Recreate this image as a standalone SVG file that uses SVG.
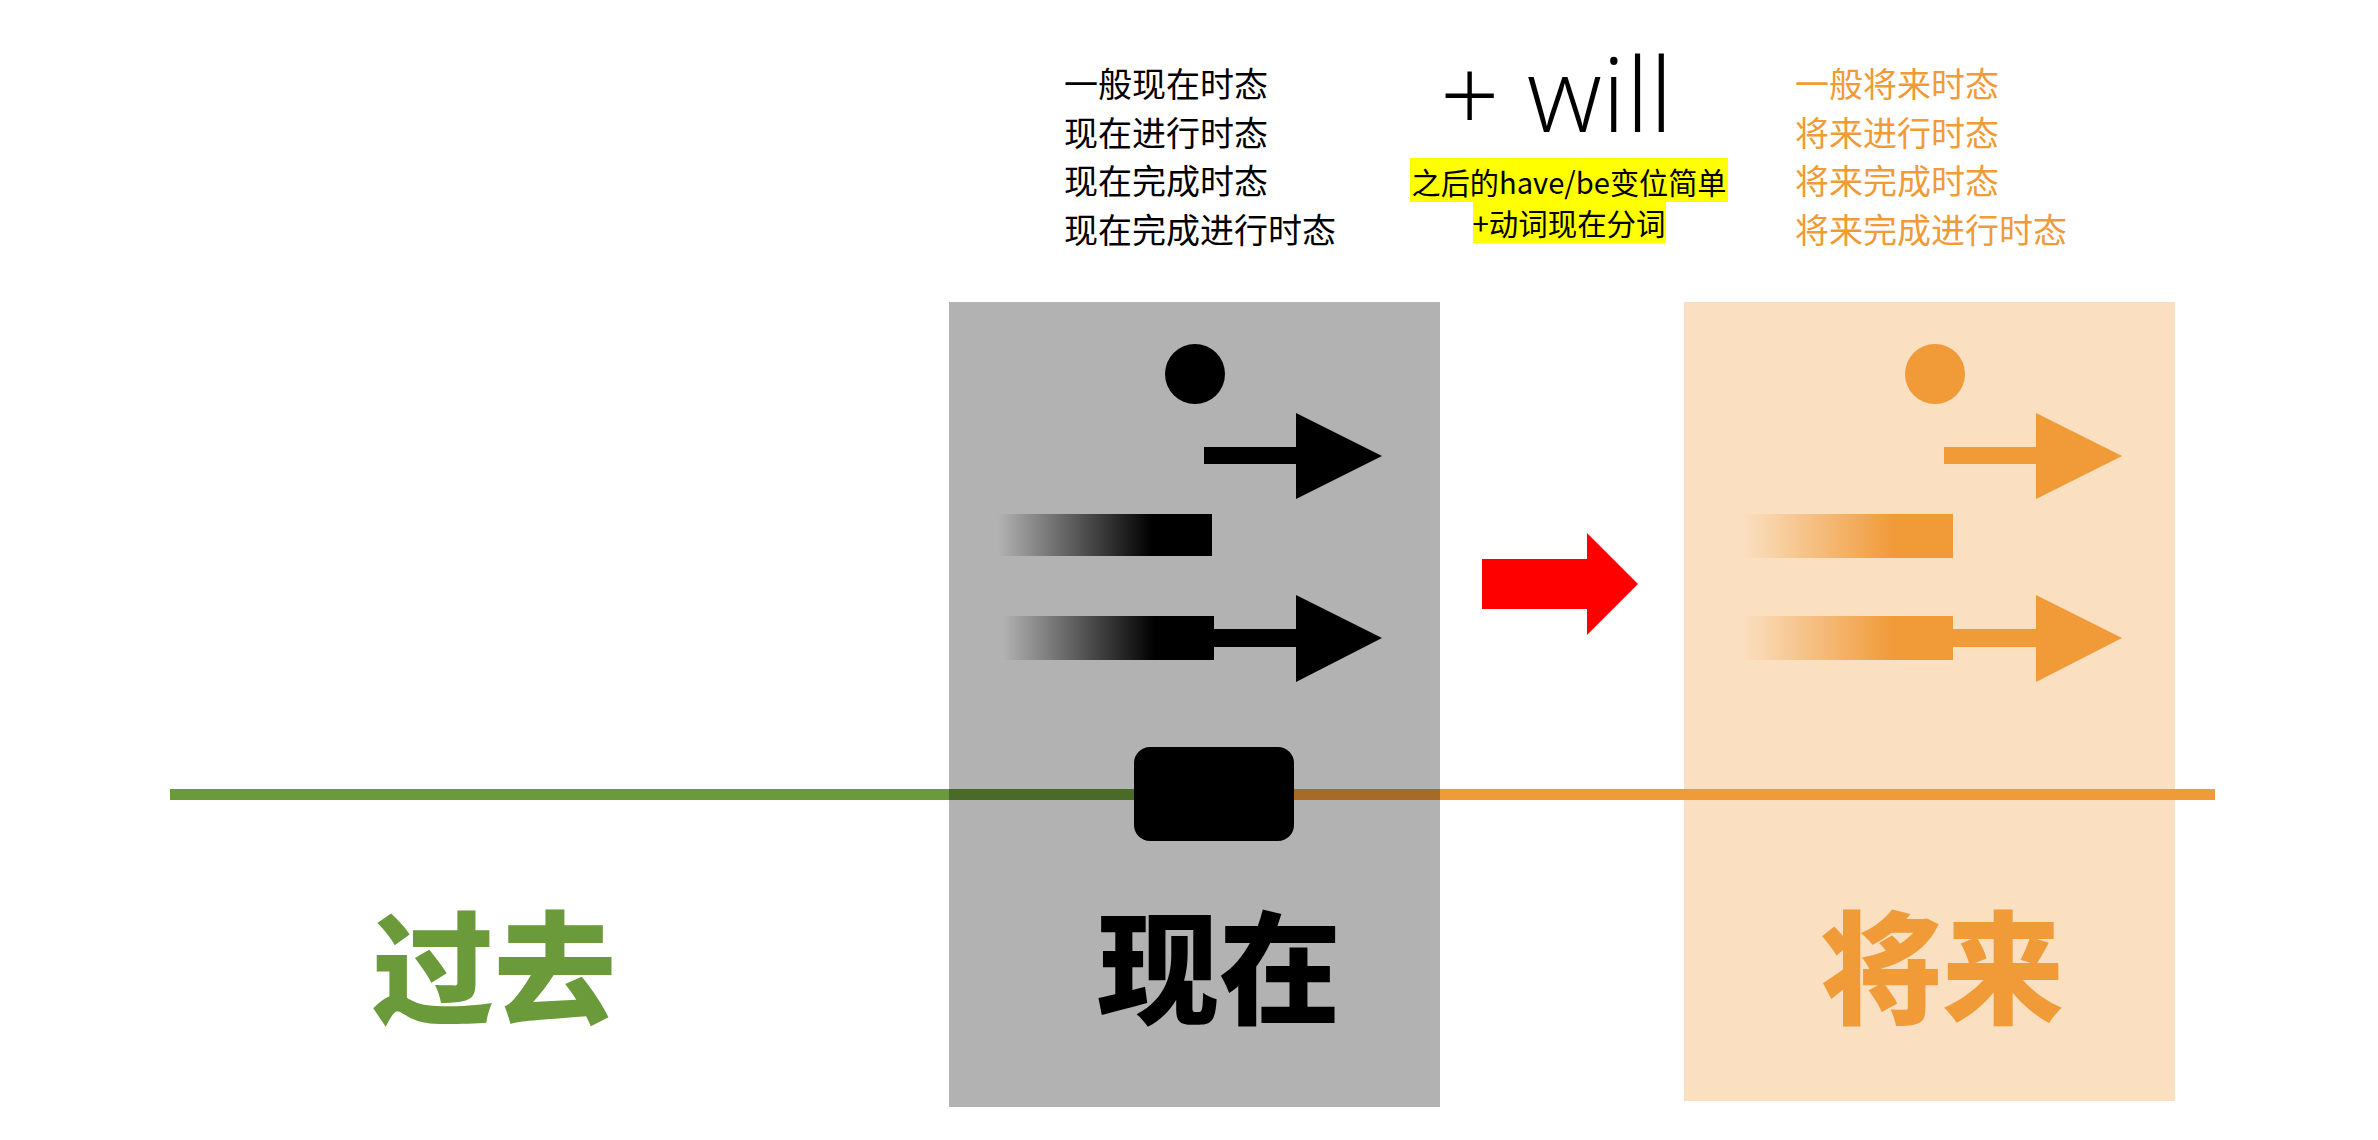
<svg xmlns="http://www.w3.org/2000/svg" width="2378" height="1140" viewBox="0 0 2378 1140">
  <style>
    .list { font-family: "Noto Sans CJK SC", "Noto Sans", sans-serif; font-size: 34px; }
    .blk { fill: #000000; }
    .org { fill: #F09A38; }
    .big { font-family: "Noto Sans CJK SC", sans-serif; font-size: 122px; font-weight: 900; text-anchor: middle; }
    .note { font-family: "Noto Sans CJK SC", "Noto Sans", sans-serif; font-size: 30px; text-anchor: middle; fill: #000; }
  </style>
  <defs>
    <linearGradient id="fadeBlack" x1="0" y1="0" x2="1" y2="0">
      <stop offset="0" stop-color="#000" stop-opacity="0"/>
      <stop offset="0.72" stop-color="#000" stop-opacity="1"/>
      <stop offset="1" stop-color="#000" stop-opacity="1"/>
    </linearGradient>
    <linearGradient id="fadeOrange" x1="0" y1="0" x2="1" y2="0">
      <stop offset="0" stop-color="#F09A38" stop-opacity="0"/>
      <stop offset="0.72" stop-color="#F09A38" stop-opacity="1"/>
      <stop offset="1" stop-color="#F09A38" stop-opacity="1"/>
    </linearGradient>
  </defs>
  <rect x="0" y="0" width="2378" height="1140" fill="#FFFFFF"/>

  <!-- future box background -->
  <g id="future-box-bg">
    <rect x="1684" y="302" width="491" height="799" fill="#FADFC0"/>
  </g>

  <!-- timeline -->
  <g id="timeline">
    <rect x="170" y="789" width="1044" height="11" fill="#6A9A3A"/>
    <rect x="1214" y="789" width="1001" height="11" fill="#F09A38"/>
  </g>

  <!-- present box -->
  <g id="present-box">
    <rect x="949" y="302" width="491" height="805" fill="#000000" fill-opacity="0.3"/>
    <circle cx="1195" cy="374" r="30" fill="#000"/>
    <rect x="1204" y="447" width="94" height="17" fill="#000"/>
    <polygon points="1296,413 1382,456 1296,499" fill="#000"/>
    <rect x="998" y="514" width="214" height="42" fill="url(#fadeBlack)"/>
    <rect x="1003" y="616" width="211" height="44" fill="url(#fadeBlack)"/>
    <rect x="1212" y="629" width="86" height="18" fill="#000"/>
    <polygon points="1296,595 1382,638 1296,682" fill="#000"/>
    <rect x="1134" y="747" width="160" height="94" rx="16" ry="16" fill="#000"/>
  </g>

  <!-- future box shapes -->
  <g id="future-box">
    <circle cx="1935" cy="374" r="30" fill="#F09A38"/>
    <rect x="1944" y="447" width="94" height="17" fill="#F09A38"/>
    <polygon points="2036,413 2122,456 2036,499" fill="#F09A38"/>
    <rect x="1744" y="514" width="209" height="44" fill="url(#fadeOrange)"/>
    <rect x="1743" y="616" width="210" height="44" fill="url(#fadeOrange)"/>
    <rect x="1951" y="629" width="87" height="18" fill="#F09A38"/>
    <polygon points="2036,595 2122,638 2036,682" fill="#F09A38"/>
  </g>

  <!-- connectors -->
  <g id="connectors">
    <polygon points="1482,559 1587,559 1587,533 1638,584 1587,635 1587,609 1482,609" fill="#FF0000"/>
  </g>

  <!-- present tense list -->
  <g id="present-list" class="list blk">
    <text x="1064" y="97">一般现在时态</text>
    <text x="1064" y="146">现在进行时态</text>
    <text x="1064" y="194">现在完成时态</text>
    <text x="1064" y="243">现在完成进行时态</text>
  </g>

  <!-- will note -->
  <g id="will-note">
    <text x="1440" y="132" font-family="'Open Sans', 'Noto Sans', sans-serif" font-size="104" font-weight="300" fill="#000" textLength="233" lengthAdjust="spacing">+ will</text>
    <rect x="1410" y="158" width="318" height="44" fill="#FFFF00"/>
    <rect x="1473" y="202" width="193" height="41" fill="#FFFF00"/>
    <text class="note" x="1569" y="194" textLength="315" lengthAdjust="spacingAndGlyphs">之后的have/be变位简单</text>
    <text class="note" x="1569" y="235" textLength="193" lengthAdjust="spacingAndGlyphs">+动词现在分词</text>
  </g>

  <!-- future tense list -->
  <g id="future-list" class="list org">
    <text x="1795" y="97">一般将来时态</text>
    <text x="1795" y="146">将来进行时态</text>
    <text x="1795" y="194">将来完成时态</text>
    <text x="1795" y="243">将来完成进行时态</text>
  </g>

  <!-- labels -->
  <g id="label-past"><text class="big" x="494" y="1014" fill="#6A9A3A">过去</text></g>
  <g id="label-present"><text class="big" x="1219" y="1014" fill="#000">现在</text></g>
  <g id="label-future"><text class="big" x="1942" y="1014" fill="#F09A38">将来</text></g>
</svg>
